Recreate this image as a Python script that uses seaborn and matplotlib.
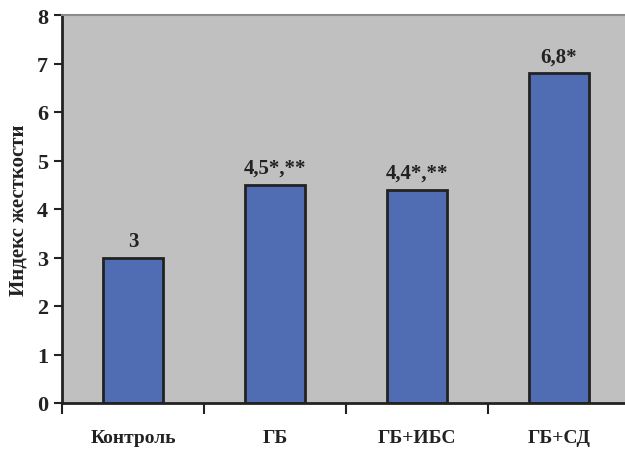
import pandas as pd
import seaborn as sns
import matplotlib.pyplot as plt

# data
groups = ['Контроль', 'ГБ', 'ГБ+ИБС', 'ГБ+СД']
stiffness = [3.0, 4.5, 4.4, 6.8]
value_labels = ['3', '4,5*,**', '4,4*,**', '6,8*']

df = pd.DataFrame({'group': groups, 'index': stiffness})

sns.set_style('white')
plt.rcParams['font.family'] = ['Liberation Serif', 'DejaVu Serif']
plt.rcParams['font.weight'] = 'bold'

fig = plt.figure(figsize=(6.25, 4.52), dpi=100)
ax = fig.add_axes([62 / 625, 48 / 452, 568 / 625, 388 / 452])
ax.set_facecolor('#c0c0c0')

sns.barplot(data=df, x='group', y='index', color='#506db4', width=0.42,
            edgecolor='#222222', linewidth=2, saturation=1, ax=ax)

ax.bar_label(ax.containers[0], labels=value_labels, padding=5,
             fontsize=15, fontweight='bold', color='#222222')

ax.set_xlim(-0.5, 3.5)
ax.set_ylim(0, 8)
ax.set_yticks(range(0, 9))
ax.set_xlabel('')
ax.set_ylabel('Индекс жесткости', fontsize=15, fontweight='bold',
              color='#222222', labelpad=6)

# category boundaries get the tick marks, labels sit in between
ax.set_xticks([-0.5, 0.5, 1.5, 2.5], minor=True)
ax.tick_params(axis='x', which='major', length=0, pad=19, labelsize=14,
               colors='#222222')
ax.tick_params(axis='x', which='minor', length=8, width=1.5, color='#222222',
               direction='out', bottom=True)
ax.tick_params(axis='y', length=6, width=1.5, color='#222222', direction='out',
               left=True, labelsize=16, labelcolor='#222222', pad=4)
for lbl in ax.get_xticklabels() + ax.get_yticklabels():
    lbl.set_fontweight('bold')

ax.spines['left'].set_color('#222222')
ax.spines['left'].set_linewidth(2)
ax.spines['bottom'].set_color('#222222')
ax.spines['bottom'].set_linewidth(2)
ax.spines['top'].set_color('#8c8c8c')
ax.spines['top'].set_linewidth(1.5)
ax.spines['right'].set_visible(False)

fig.savefig('out.png', dpi=100, facecolor='white')
plt.close(fig)
